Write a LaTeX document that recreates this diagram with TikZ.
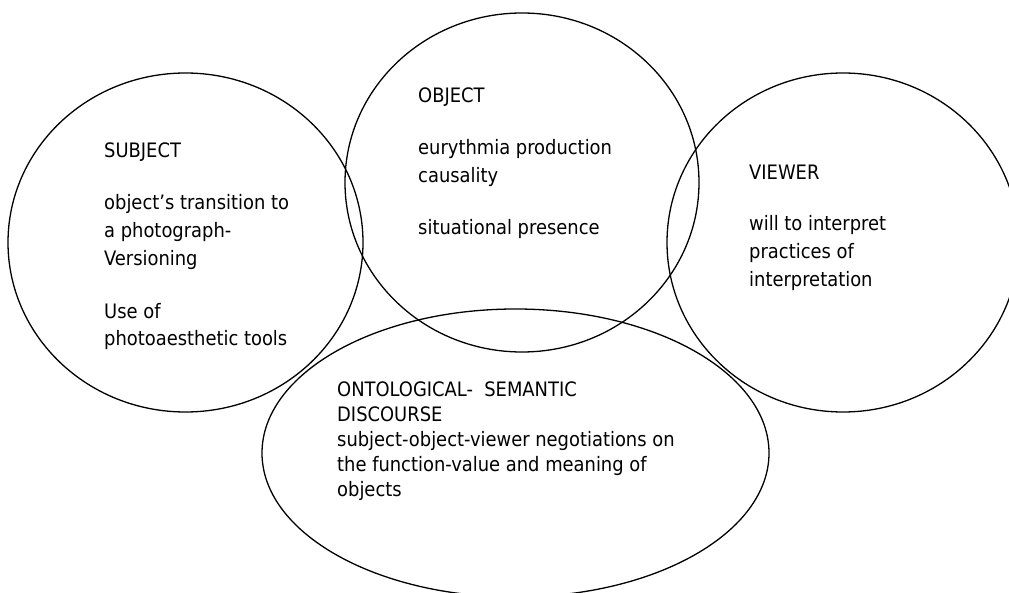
\documentclass[tikz,border=0pt]{standalone}
\usepackage{fontspec}
\setmainfont{DejaVu Sans Condensed}
\usepackage{tikz}
\usetikzlibrary{shapes.geometric}

\begin{document}
\begin{tikzpicture}[x=1pt, y=-1pt,
        ring/.style={shape=ellipse, draw=black, line width=1.3pt, inner sep=0pt, outer sep=0pt},
        txt/.style={anchor=base west, align=left, inner sep=0pt, font=\fontsize{19.9}{28}\selectfont}]
        \useasboundingbox (0, 0) rectangle (1009, 593);
        \clip (0, 0) rectangle (1009, 593);

        \node[ring, minimum width=355pt, minimum height=339pt] (S) at (185.5, 242.5) {};
        \node[ring, minimum width=354pt, minimum height=339pt] (O) at (522, 182.5) {};
        \node[ring, minimum width=352pt, minimum height=339pt] (V) at (843, 242.5) {};
        \node[ring, minimum width=507pt, minimum height=288pt] (D) at (515.5, 453) {};

        % base anchor sits on the last line
        \node[txt] (Stxt) at (104, 346) {SUBJECT\\[24pt]object’s transition to\\a photograph-\\Versioning\\[24pt]Use of\\photoaesthetic tools};
        \node[txt] (Otxt) at (418, 235) {OBJECT\\[24pt]eurythmia production\\causality\\[24pt]situational presence};
        \node[txt] (Vtxt) at (749, 287) {VIEWER\\[23pt]will to interpret\\practices of\\interpretation};
        \node[txt, font=\fontsize{19.9}{24.8}\selectfont] (Dtxt) at (337, 496) {ONTOLOGICAL-\ \ SEMANTIC\\DISCOURSE\\subject-object-viewer negotiations on\\the function-value and meaning of\\objects};
    \end{tikzpicture}
\end{document}
